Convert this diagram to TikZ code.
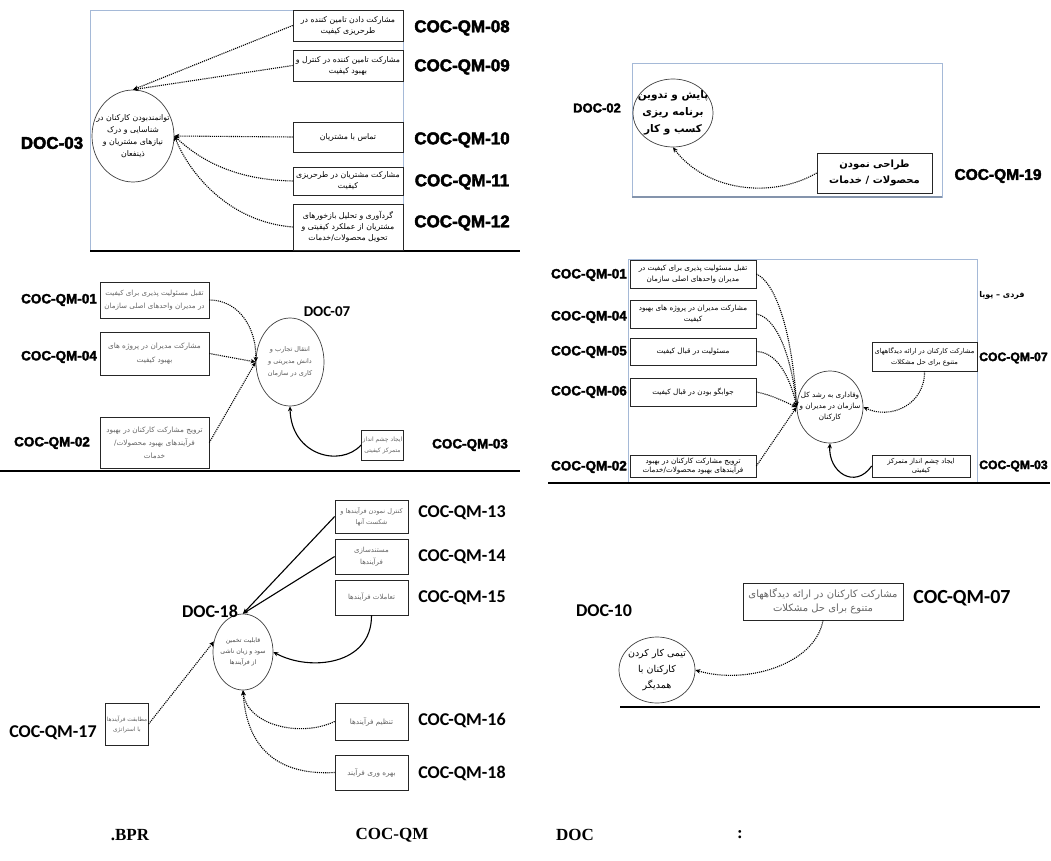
\documentclass[tikz,border=0pt]{standalone}
\usepackage{fontspec}
\setmainfont{Liberation Serif}
\newfontfamily\fafont[Script=Arabic]{DejaVu Sans}
\newfontfamily\heavyfont{Liberation Sans}[BoldFeatures={FakeBold=2.5}]
\newfontfamily\calfont{Carlito}
\newfontfamily\capfont{Liberation Serif}
\TeXXeTstate=1
\usetikzlibrary{shapes.geometric,arrows.meta}
\definecolor{fr}{RGB}{165,185,215}
\newcommand{\fa}[1]{\beginR #1\endR}
\newcommand{\fs}[2]{\fafont\fontsize{#1}{#2}\selectfont}
\begin{document}
\begin{tikzpicture}[x=1pt,y=-1pt,
  box/.style={draw=black!85, line width=0.7pt, fill=white, inner sep=1pt, align=center, font=\fs{7.8}{11}},
  gbox/.style={box, text=black!60},
  ell/.style={ellipse, draw=black!75, line width=0.7pt, inner sep=0pt, fill=white},
  etxt/.style={align=center, font=\fs{7.5}{11}, inner sep=0pt},
  lab/.style={font=\heavyfont\bfseries\fontsize{17}{17}\selectfont, inner sep=0pt},
  slab/.style={font=\heavyfont\bfseries\fontsize{13.5}{13.5}\selectfont, inner sep=0pt},
  clab/.style={font=\calfont\bfseries\fontsize{18}{18}\selectfont, inner sep=0pt},
  captxt/.style={font=\capfont\bfseries\fontsize{17}{17}\selectfont, inner sep=0pt},
  frm/.style={draw=fr, line width=0.9pt},
  sepline/.style={line width=2.6pt},
  arr/.style={densely dotted, line width=1.1pt, -{Stealth[length=5pt,width=4.5pt]}},
  sarr/.style={line width=1.1pt, -{Stealth[length=5pt,width=4.5pt]}}]
\useasboundingbox (0,0) rectangle (1051,861);
\fill[white] (0,0) rectangle (1051,861);

% ================= Panel TL =================
\draw[frm] (90,10) rectangle (403,250);
\draw[sepline] (90,251) -- (520,251);
\node[ell, minimum width=82pt, minimum height=92pt] (c03) at (133,136) {};
\node[etxt, font=\fs{7.8}{12}] (t03) at (c03) {\fa{توانمندبودن کارکنان در}\\\fa{شناسایی و درک}\\\fa{نیازهای مشتریان و}\\\fa{ذینفعان}};
\node[lab] (l03) at (52,143) {DOC-03};
\node[box, minimum width=110pt, minimum height=31pt] (b08) at (348,25.5) {\fa{مشارکت دادن تامین کننده در}\\\fa{طرحریزی کیفیت}};
\node[box, minimum width=110pt, minimum height=31pt] (b09) at (348,65.5) {\fa{مشارکت تامین کننده در کنترل و}\\\fa{بهبود کیفیت}};
\node[box, minimum width=110pt, minimum height=30pt] (b10) at (348,137) {\fa{تماس با مشتریان}};
\node[box, minimum width=110pt, minimum height=28pt] (b11) at (348,181) {\fa{مشارکت مشتریان در طرحریزی}\\\fa{کیفیت}};
\node[box, minimum width=110pt, minimum height=46pt] (b12) at (348,227) {\fa{گردآوری و تحلیل بازخورهای}\\\fa{مشتریان از عملکرد کیفیتی و}\\\fa{تحویل محصولات/خدمات}};
\node[lab] (q08) at (462,28) {COC-QM-08};
\node[lab] (q09) at (462,67) {COC-QM-09};
\node[lab] (q10) at (462,140) {COC-QM-10};
\node[lab] (q11) at (462,182) {COC-QM-11};
\node[lab] (q12) at (462,223) {COC-QM-12};
\draw[arr] (b08.west) -- (c03.north);
\draw[arr] (b09.west) -- (c03.north);
\draw[arr] (b10.west) -- (c03.east);
\draw[arr] (b11.west) .. controls (235,180) and (200,160) .. (c03.east);
\draw[arr] (b12.west) .. controls (230,222) and (190,175) .. (c03.east);

% ================= Panel TR =================
\draw[frm] (632,63) rectangle (942,197);
\draw[draw=fr!80!black, line width=1.4pt] (632,197) -- (942,197);
\node[ell, minimum width=80pt, minimum height=68pt] (c02) at (673,113) {};
\node[etxt, font=\fafont\bfseries\fontsize{10.5}{17}\selectfont] (t02) at (c02) {\fa{پایش و تدوین}\\\fa{برنامه ریزی}\\\fa{کسب و کار}};
\node[lab, font=\heavyfont\bfseries\fontsize{13}{13}\selectfont] (l02) at (597,108) {DOC-02};
\node[box, minimum width=115pt, minimum height=40pt, font=\fafont\bfseries\fontsize{10}{16}\selectfont] (b19) at (874.5,173) {\fa{طراحی نمودن}\\\fa{محصولات / خدمات}};
\node[lab, font=\heavyfont\bfseries\fontsize{15.5}{15.5}\selectfont] (q19) at (998,176) {COC-QM-19};
\draw[arr] (b19.west) .. controls (770,200) and (705,190) .. (c02.south);

% ================= Panel ML =================
\draw[sepline] (0,471) -- (520,471);
\node[ell, minimum width=68pt, minimum height=88pt] (c07) at (290,362) {};
\node[etxt, text=black!65, font=\fs{6.5}{12}] (t07) at (c07) {\fa{انتقال تجارب و}\\\fa{دانش مدیریتی و}\\\fa{کاری در سازمان}};
\node[clab, font=\calfont\bfseries\fontsize{15}{15}\selectfont] (l07) at (327,312) {DOC-07};
\node[gbox, minimum width=109pt, minimum height=36pt, font=\fs{7.1}{13}] (n01) at (154.5,300) {\fa{تقبل مسئولیت پذیری برای کیفیت}\\\fa{در مدیران واحدهای اصلی سازمان}};
\node[gbox, minimum width=109pt, minimum height=43pt, font=\fs{7.3}{14}] (n04) at (154.5,353.5) {\fa{مشارکت مدیران در پروژه های}\\\fa{بهبود کیفیت}};
\node[gbox, minimum width=109pt, minimum height=51pt, font=\fs{7.3}{13}] (n02) at (154.5,442.5) {\fa{ترویج مشارکت کارکنان در بهبود}\\\fa{فرآیندهای بهبود محصولات/}\\\fa{خدمات}};
\node[gbox, minimum width=42pt, minimum height=30pt, font=\fs{6}{11}] (n03) at (382.5,445) {\fa{ایجاد چشم انداز}\\\fa{متمرکز کیفیتی}};
\node[slab] (p01) at (59,300) {COC-QM-01};
\node[slab] (p04) at (59,357) {COC-QM-04};
\node[slab] (p02) at (52,443) {COC-QM-02};
\node[slab] (p03) at (470,445) {COC-QM-03};
\draw[arr] (n01.east) .. controls (240,300) and (257,330) .. (c07.west);
\draw[arr] (n04.east) -- (c07.west);
\draw[arr] (n02.east) -- (c07.west);
\draw[sarr] (n03.west) .. controls (340,468) and (291,455) .. (c07.south);

% ================= Panel MR =================
\draw[frm] (628,259) rectangle (977,482);
\draw[sepline] (548,483) -- (1050,483);
\node[ell, minimum width=66pt, minimum height=72pt] (cM) at (830,407) {};
\node[etxt, font=\fs{7.2}{11}] (tM) at (cM) {\fa{وفاداری به رشد کل}\\\fa{سازمان در مدیران و}\\\fa{کارکنان}};
\node[box, minimum width=126pt, minimum height=28pt, font=\fs{7.2}{11}] (m01) at (693,274) {\fa{تقبل مسئولیت پذیری برای کیفیت در}\\\fa{مدیران واحدهای اصلی سازمان}};
\node[box, minimum width=126pt, minimum height=28pt, font=\fs{7.2}{11}] (m04) at (693,314) {\fa{مشارکت مدیران در پروژه های بهبود}\\\fa{کیفیت}};
\node[box, minimum width=126pt, minimum height=27pt, font=\fs{7.2}{11}] (m05) at (693,351.5) {\fa{مسئولیت در قبال کیفیت}};
\node[box, minimum width=126pt, minimum height=28pt, font=\fs{7.2}{11}] (m06) at (693,392) {\fa{جوابگو بودن در قبال کیفیت}};
\node[box, minimum width=126pt, minimum height=22pt, font=\fs{7.2}{9.5}] (m02) at (693,466) {\fa{ترویج مشارکت کارکنان در بهبود}\\\fa{فرآیندهای بهبود محصولات/خدمات}};
\node[box, minimum width=105pt, minimum height=29pt, font=\fs{6.7}{11}] (m07) at (924.5,356.5) {\fa{مشارکت کارکنان در ارائه دیدگاههای}\\\fa{متنوع برای حل مشکلات}};
\node[box, minimum width=98pt, minimum height=22pt, font=\fs{6.8}{9.5}] (m03) at (921,466) {\fa{ایجاد چشم انداز متمرکز}\\\fa{کیفیتی}};
\node[slab, anchor=east] (r01) at (627,275) {COC-QM-01};
\node[slab, anchor=east] (r04) at (627,317) {COC-QM-04};
\node[slab, anchor=east] (r05) at (627,352) {COC-QM-05};
\node[slab, anchor=east] (r06) at (627,392) {COC-QM-06};
\node[slab, anchor=east] (r02) at (627,467) {COC-QM-02};
\node[slab, anchor=west, font=\heavyfont\bfseries\fontsize{12.2}{12.2}\selectfont] (r07) at (979,358) {COC-QM-07};
\node[slab, anchor=west, font=\heavyfont\bfseries\fontsize{12.2}{12.2}\selectfont] (r03) at (979,466) {COC-QM-03};
\node[font=\fafont\bfseries\fontsize{8}{8}\selectfont, inner sep=0pt] (fp) at (1002,295) {\fa{فردی – پویا}};
\draw[arr] (m01.east) .. controls (775,282) and (792,330) .. (cM.west);
\draw[arr] (m04.east) .. controls (778,318) and (792,360) .. (cM.west);
\draw[arr] (m05.east) .. controls (780,352) and (792,385) .. (cM.west);
\draw[arr] (m06.east) .. controls (772,395) and (785,402) .. (cM.west);
\draw[arr] (m02.east) -- (cM.west);
\draw[arr] (m07.south) .. controls (925,405) and (890,420) .. (cM.east);
\draw[sarr] (m03.west) .. controls (855,490) and (828,472) .. (cM.south);

% ================= Panel BL =================
\node[ell, minimum width=60pt, minimum height=76pt] (c18) at (243,652) {};
\node[etxt, text=black!70, font=\fs{6.2}{11}] (t18) at (c18) {\fa{قابلیت تخمین}\\\fa{سود و زیان ناشی}\\\fa{از فرآیندها}};
\node[clab] (l18) at (210,611) {DOC-18};
\node[gbox, minimum width=73pt, minimum height=33pt, font=\fs{6.5}{11}] (k13) at (371.5,516.5) {\fa{کنترل نمودن فرآیندها و}\\\fa{شکست آنها}};
\node[gbox, minimum width=73pt, minimum height=35pt, font=\fs{7}{12}] (k14) at (371.5,556.5) {\fa{مستندسازی}\\\fa{فرآیندها}};
\node[gbox, minimum width=73pt, minimum height=35pt, font=\fs{7}{12}] (k15) at (371.5,597.5) {\fa{تعاملات فرآیندها}};
\node[gbox, minimum width=73pt, minimum height=37pt, font=\fs{7.3}{12}] (k16) at (371.5,721.5) {\fa{تنظیم فرآیندها}};
\node[gbox, minimum width=73pt, minimum height=35pt, font=\fs{7.3}{12}] (k18) at (371.5,772.5) {\fa{بهره وری فرآیند}};
\node[gbox, minimum width=40pt, minimum height=42pt, font=\fs{5.8}{10}] (k17) at (127,724) {\fa{مطابقت فرآیندها}\\\fa{با استراتژی}};
\node[clab] (s13) at (462,513) {COC-QM-13};
\node[clab] (s14) at (462,557) {COC-QM-14};
\node[clab] (s15) at (462,598) {COC-QM-15};
\node[clab] (s16) at (462,720) {COC-QM-16};
\node[clab] (s18) at (462,773) {COC-QM-18};
\node[clab] (s17) at (53,733) {COC-QM-17};
\draw[sarr] (k13.west) -- (c18.north);
\draw[sarr] (k14.west) -- (c18.north);
\draw[sarr] (k15.south) .. controls (372,665) and (310,672) .. (c18.east);
\draw[arr] (k16.west) .. controls (300,738) and (247,725) .. (c18.south);
\draw[arr] (k18.west) .. controls (270,776) and (246,740) .. (c18.south);
\draw[arr] (k17.east) -- (c18.160);

% ================= Panel BR =================
\draw[line width=2pt] (620,707) -- (1040,707);
\node[ell, minimum width=76pt, minimum height=66pt] (c10) at (657,670) {};
\node[etxt, font=\fs{9.5}{16}] (t10) at (c10) {\fa{تیمی کار کردن}\\\fa{کارکنان با}\\\fa{همدیگر}};
\node[clab] (l10) at (604,611) {DOC-10};
\node[gbox, minimum width=160pt, minimum height=37pt, font=\fs{10}{14}] (w07) at (823,601.5) {\fa{مشارکت کارکنان در ارائه دیدگاههای}\\\fa{متنوع برای حل مشکلات}};
\node[clab, font=\calfont\bfseries\fontsize{20}{20}\selectfont] (v07) at (962,598) {COC-QM-07};
\draw[arr] (w07.south) .. controls (815,665) and (745,685) .. (c10.east);

% ================= Caption =================
\node[captxt] (k1) at (130,835) {.BPR};
\node[captxt] (k2) at (392,835) {COC-QM};
\node[captxt] (k3) at (575,835) {DOC};
\node[captxt] (k4) at (740,835) {:};
\end{tikzpicture}
\end{document}
